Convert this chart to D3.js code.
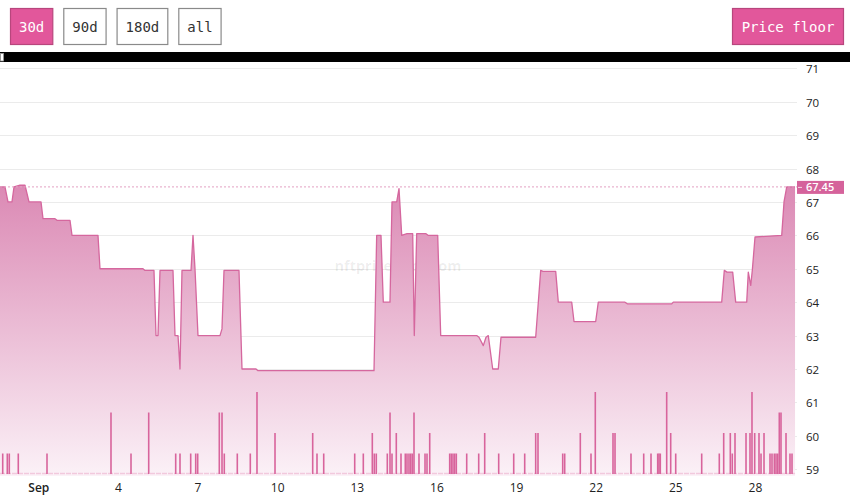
<!DOCTYPE html>
<html>
<head>
<meta charset="utf-8">
<script src="https://cdn.jsdelivr.net/npm/d3@7"></script>
<style>
  html, body { margin: 0; padding: 0; background: #fff; }
  svg { display: block; }
</style>
</head>
<body>
<svg id="chart" width="850" height="497"></svg>
<script>
// ---------- DATA ----------
// time in days since Sep 1 00:00 (negative = late August)
const rangeButtons = ["30d", "90d", "180d", "all"];
const metricButton = "Price floor";
const priceTicks = [59, 60, 61, 62, 63, 64, 65, 66, 67, 68, 69, 70, 71];
const dayTicks = [1, 4, 7, 10, 13, 16, 19, 22, 25, 28];
const monthLabel = "Sep";
const currentPrice = 67.45;
const watermark = "nftpricefloor.com";

const priceSeries = [
  [-1.443, 67.45], [-1.255, 67.45], [-1.142, 67.0], [-0.991, 67.0], [-0.915, 67.45],
  [-0.690, 67.5], [-0.501, 67.5], [-0.350, 67.0], [0.102, 67.0], [0.177, 66.5],
  [0.629, 66.5], [0.705, 66.45], [1.194, 66.45], [1.270, 66.0], [2.249, 66.0],
  [2.325, 65.0], [3.945, 65.0], [4.020, 64.95], [4.359, 64.95], [4.435, 63.0],
  [4.510, 63.0], [4.586, 64.95], [5.075, 64.95], [5.151, 63.0], [5.264, 63.0],
  [5.339, 62.0], [5.414, 64.95], [5.754, 64.95], [5.829, 66.0], [5.904, 65.0],
  [6.017, 63.0], [6.846, 63.0], [6.921, 63.2], [6.997, 64.95], [7.562, 64.95],
  [7.675, 62.0], [8.203, 62.0], [8.278, 61.95], [12.649, 61.95], [12.750, 66.0],
  [12.912, 66.0], [12.999, 64.0], [13.251, 64.0], [13.327, 67.0], [13.504, 67.0],
  [13.591, 67.4], [13.693, 66.0], [13.892, 66.05], [14.107, 66.05], [14.167, 63.0],
  [14.257, 66.05], [14.608, 66.05], [14.683, 66.0], [15.049, 66.0], [15.162, 63.0],
  [16.518, 63.0], [16.605, 62.95], [16.767, 62.7], [16.869, 62.95], [16.955, 63.0],
  [17.121, 62.0], [17.332, 62.0], [17.434, 62.95], [18.741, 62.95], [18.930, 64.95],
  [19.016, 64.92], [19.495, 64.92], [19.593, 64.0], [20.098, 64.0], [20.185, 63.42],
  [21.002, 63.42], [21.100, 64.0], [22.106, 64.0], [22.193, 63.95], [23.866, 63.95],
  [23.926, 64.0], [25.750, 64.0], [25.848, 64.95], [25.950, 64.9], [26.164, 64.9],
  [26.277, 64.0], [26.692, 64.0], [26.752, 64.9], [26.843, 64.5], [26.903, 64.95],
  [27.005, 65.95], [28.011, 66.0], [28.098, 67.0], [28.200, 67.45], [28.513, 67.45]
];

// sales count per trade bucket: [time in days, count]
const volumeSeries = [
  [-1.341, 1], [-1.168, 1], [-1.093, 1], [-0.754, 1], [0.328, 1], [2.739, 3],
  [3.493, 1], [4.160, 3], [5.177, 1], [5.339, 1], [5.742, 1], [5.931, 1],
  [6.006, 1], [6.820, 3], [6.922, 3], [7.008, 1], [7.498, 1], [7.988, 1],
  [8.240, 4], [8.919, 2], [10.339, 2], [10.501, 1], [10.754, 1], [11.922, 1],
  [12.246, 1], [12.585, 2], [12.660, 1], [12.735, 1], [13.150, 1], [13.252, 3],
  [13.327, 1], [13.489, 2], [13.666, 1], [13.828, 1], [13.892, 1], [13.967, 1],
  [14.032, 1], [14.092, 1], [14.156, 3], [14.344, 1], [14.571, 1], [14.646, 1],
  [14.748, 2], [15.501, 1], [15.561, 1], [15.625, 1], [15.689, 1], [15.750, 1],
  [16.142, 1], [16.594, 1], [16.820, 2], [17.347, 1], [17.913, 1], [18.327, 1],
  [18.741, 2], [18.828, 2], [19.759, 1], [19.834, 1], [20.422, 2], [20.825, 1],
  [20.987, 4], [21.654, 2], [21.730, 2], [22.332, 1], [22.811, 1], [23.086, 1],
  [23.338, 1], [23.387, 1], [23.436, 1], [23.677, 4], [23.828, 2], [24.017, 1],
  [24.996, 1], [25.659, 1], [25.825, 2], [26.074, 2], [26.149, 1], [26.251, 2],
  [26.666, 2], [26.816, 2], [26.891, 4], [26.993, 2], [27.155, 2], [27.231, 1],
  [27.344, 2], [27.570, 1], [27.645, 1], [27.732, 1], [27.796, 1], [27.860, 1],
  [27.920, 3], [27.984, 3], [28.173, 2], [28.323, 1], [28.399, 1]
];
const domainDays = [-1.443, 28.587];

// ---------- HELPERS ----------
const base = new Date(2023, 8, 1, 0, 0, 0);
const DAY = 86400000;
const toDate = t => new Date(base.getTime() + t * DAY);

// ---------- STYLE / LAYOUT ----------
const W = 850, H = 497;
const plotLeft = 0, plotRight = 797;
const pink = "#e2579b";
const lineColor = "#d5679e";

const svg = d3.select("#chart");

const x = d3.scaleTime()
  .domain(domainDays.map(toDate))
  .range([plotLeft, plotRight]);
const y = d3.scaleLinear().domain([59, 71]).range([469.2, 68.3]);
const vBase = 474;
const yv = d3.scaleLinear().domain([0, 4]).range([vBase, 392]);

// ---------- TOP BUTTONS ----------
const btnFont = "'DejaVu Sans Mono', monospace";
let bx = 10;
const btnG = svg.append("g");
rangeButtons.forEach((label, i) => {
  const w = label.length * 8.43 + 17;
  const g = btnG.append("g").attr("transform", `translate(${bx},8)`);
  g.append("rect").attr("x", 0.5).attr("y", 0.5).attr("width", w).attr("height", 36)
    .attr("fill", i === 0 ? pink : "#fff")
    .attr("stroke", i === 0 ? "#b8467d" : "#8a8a8a").attr("stroke-width", 1.2);
  g.append("text").attr("x", w / 2 + 0.5).attr("y", 23.5)
    .attr("text-anchor", "middle").attr("font-family", btnFont).attr("font-size", 14)
    .attr("fill", i === 0 ? "#fff" : "#333").text(label);
  bx += w + 11;
});
{
  const w = 112;
  const g = btnG.append("g").attr("transform", `translate(${844 - w},8)`);
  g.append("rect").attr("x", 0.5).attr("y", 0.5).attr("width", w - 1).attr("height", 36)
    .attr("fill", pink).attr("stroke", "#b8467d").attr("stroke-width", 1.2);
  g.append("text").attr("x", w / 2).attr("y", 23.5)
    .attr("text-anchor", "middle").attr("font-family", btnFont).attr("font-size", 14)
    .attr("fill", "#fff").text(metricButton);
}

// ---------- NAVIGATOR BAR ----------
svg.append("rect").attr("x", 0).attr("y", 52).attr("width", W).attr("height", 10).attr("fill", "#000");
svg.append("rect").attr("x", 0.5).attr("y", 53.5).attr("width", 3).attr("height", 7.5)
  .attr("fill", "#fff").attr("stroke", "#999").attr("stroke-width", 0.8);

// ---------- GRID ----------
svg.append("g").selectAll("line").data(priceTicks).join("line")
  .attr("x1", plotLeft).attr("x2", plotRight)
  .attr("y1", d => Math.round(y(d)) + 0.5).attr("y2", d => Math.round(y(d)) + 0.5)
  .attr("stroke", "#ebebeb").attr("stroke-width", 1);

// ---------- WATERMARK ----------
svg.append("text").attr("x", 398).attr("y", 271).attr("text-anchor", "middle")
  .attr("font-family", "'Open Sans', sans-serif").attr("font-weight", 700).attr("font-size", 14.5)
  .attr("fill", "#000").attr("fill-opacity", 0.07).text(watermark);

// ---------- AREA ----------
const defs = svg.append("defs");
const grad = defs.append("linearGradient").attr("id", "areaGrad")
  .attr("gradientUnits", "userSpaceOnUse").attr("x1", 0).attr("x2", 0).attr("y1", 185).attr("y2", 476);
grad.append("stop").attr("offset", 0).attr("stop-color", "rgb(219,137,180)");
grad.append("stop").attr("offset", 1).attr("stop-color", "rgb(251,241,247)");

const area = d3.area()
  .x(d => x(toDate(d[0])))
  .y0(476)
  .y1(d => y(d[1]));
const line = d3.line()
  .x(d => x(toDate(d[0])))
  .y(d => y(d[1]));

svg.append("path").datum(priceSeries).attr("d", area).attr("fill", "url(#areaGrad)");
svg.append("path").datum(priceSeries).attr("d", line)
  .attr("fill", "none").attr("stroke", lineColor).attr("stroke-width", 1.3)
  .attr("stroke-linejoin", "round");

// ---------- VOLUME ----------
svg.append("line").attr("x1", plotLeft).attr("x2", x(toDate(priceSeries[priceSeries.length - 1][0])))
  .attr("y1", vBase - 0.5).attr("y2", vBase - 0.5)
  .attr("stroke", "#f2c9dd").attr("stroke-width", 1.4).attr("stroke-dasharray", "5,1");
svg.append("g").selectAll("rect").data(volumeSeries).join("rect")
  .attr("x", d => x(toDate(d[0])) - 0.8)
  .attr("width", 1.6)
  .attr("y", d => yv(d[1]))
  .attr("height", d => vBase - yv(d[1]))
  .attr("fill", "#d8649c");

// ---------- CURRENT PRICE ----------
svg.append("line").attr("x1", plotLeft).attr("x2", plotRight)
  .attr("y1", y(currentPrice)).attr("y2", y(currentPrice))
  .attr("stroke", "#e4a0c2").attr("stroke-width", 1).attr("stroke-dasharray", "2,2");

// ---------- Y AXIS ----------
const yAxis = svg.append("g").attr("transform", `translate(${plotRight},0)`)
  .call(d3.axisRight(y).tickValues(priceTicks).tickSize(0).tickPadding(9).tickFormat(d3.format("d")));
yAxis.select(".domain").remove();
yAxis.selectAll("text").attr("font-family", "'Open Sans', sans-serif").attr("font-size", 11.5)
  .attr("fill", "#222").attr("dy", "0.4em");

// current price tag
const tagY = y(currentPrice);
svg.append("rect").attr("x", 797).attr("y", tagY - 6).attr("width", 47).attr("height", 13)
  .attr("fill", "#d5629b");
svg.append("line").attr("x1", 798).attr("x2", 802).attr("y1", tagY + 0.5).attr("y2", tagY + 0.5)
  .attr("stroke", "#f6d5e5").attr("stroke-width", 1);
svg.append("text").attr("x", 806).attr("y", tagY + 4)
  .attr("font-family", "'Open Sans', sans-serif").attr("font-size", 11).attr("font-weight", 600)
  .attr("fill", "#fff").text(currentPrice.toFixed(2));

// ---------- X AXIS ----------
const xAxis = svg.append("g").attr("transform", `translate(0,481)`)
  .call(d3.axisBottom(x)
    .tickValues(dayTicks.map(d => toDate(d - 1)))
    .tickSize(0).tickPadding(0)
    .tickFormat(d => d.getDate() === 1 ? monthLabel : String(d.getDate())));
xAxis.select(".domain").remove();
xAxis.selectAll("text").attr("font-family", "'Open Sans', sans-serif").attr("font-size", 12)
  .attr("fill", "#222").attr("dy", "0.95em")
  .attr("font-weight", d => d.getDate() === 1 ? 600 : 400);
</script>
</body>
</html>
